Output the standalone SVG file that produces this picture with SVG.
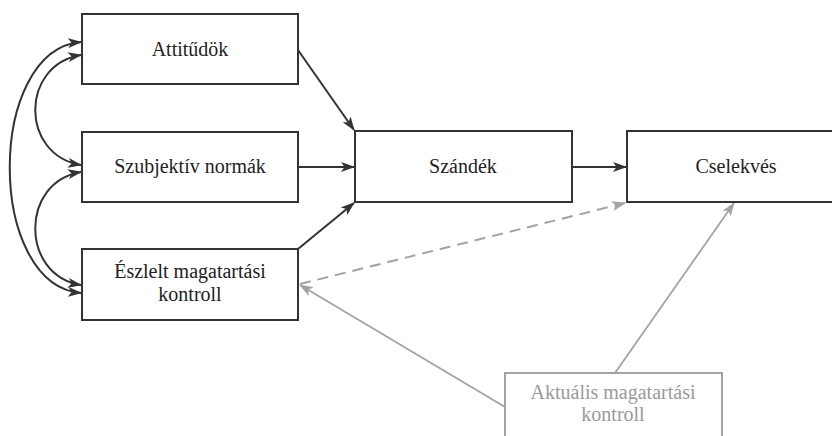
<svg xmlns="http://www.w3.org/2000/svg" width="832" height="436" viewBox="0 0 832 436">
<style>
.box{fill:#fff;stroke:#333;stroke-width:2}
.gbox{fill:#fff;stroke:#a3a3a3;stroke-width:2}
.t{font-family:"Liberation Serif","Times New Roman",serif;font-size:20px;fill:#222;text-anchor:middle}
.gt{font-family:"Liberation Serif","Times New Roman",serif;font-size:20px;fill:#9a9a9a;text-anchor:middle}
.c{fill:none;stroke:#333;stroke-width:2}
.g{fill:none;stroke:#a3a3a3;stroke-width:1.8}
.d{fill:none;stroke:#a3a3a3;stroke-width:2;stroke-dasharray:11 7}
</style>
<defs>
<marker id="a" viewBox="0 0 14 10" refX="13" refY="5" markerWidth="14" markerHeight="10" markerUnits="userSpaceOnUse" orient="auto-start-reverse">
<path d="M0,0 L14,5 L0,10 L3.5,5 z" fill="#333"/>
</marker>
<marker id="ga" viewBox="0 0 14 10" refX="13" refY="5" markerWidth="14" markerHeight="10" markerUnits="userSpaceOnUse" orient="auto-start-reverse">
<path d="M0,0 L14,5 L0,10 L3.5,5 z" fill="#a3a3a3"/>
</marker>
</defs>
<rect width="832" height="436" fill="#fff"/>
<g id="connectors">
<path class="c" d="M81,42 C-14,50 -14,285 81,293" marker-start="url(#a)" marker-end="url(#a)"/>
<path class="c" d="M81,55 C20,65 20,155 81,165" marker-start="url(#a)" marker-end="url(#a)"/>
<path class="c" d="M81,172 C20,182 20,275 81,285" marker-start="url(#a)" marker-end="url(#a)"/>
<line class="c" x1="298" y1="50" x2="354" y2="130" marker-end="url(#a)"/>
<line class="c" x1="298" y1="167" x2="354" y2="167" marker-end="url(#a)"/>
<line class="c" x1="298" y1="249" x2="354" y2="203" marker-end="url(#a)"/>
<line class="c" x1="572" y1="167" x2="626" y2="167" marker-end="url(#a)"/>
<line class="d" x1="300" y1="284" x2="625" y2="203" marker-end="url(#ga)"/>
<line class="g" x1="505" y1="407" x2="300" y2="285" marker-end="url(#ga)"/>
<line class="g" x1="615" y1="373" x2="734" y2="203" marker-end="url(#ga)"/>
</g>
<g id="attitudok">
<rect class="box" x="82" y="14" width="216" height="70"/>
<text class="t" x="190" y="56">Attitűdök</text>
</g>
<g id="szubjektiv">
<rect class="box" x="82" y="132" width="216" height="70"/>
<text class="t" x="190" y="173">Szubjektív normák</text>
</g>
<g id="eszlelt">
<rect class="box" x="82" y="249" width="216" height="71"/>
<text class="t" x="190" y="278">Észlelt magatartási</text>
<text class="t" x="190" y="301">kontroll</text>
</g>
<g id="szandek">
<rect class="box" x="355" y="131" width="217" height="71"/>
<text class="t" x="463" y="173">Szándék</text>
</g>
<g id="cselekves">
<rect class="box" x="627" y="131" width="230" height="71"/>
<text class="t" x="736" y="173">Cselekvés</text>
</g>
<g id="aktualis">
<rect class="gbox" x="505" y="373" width="217" height="80"/>
<text class="gt" x="613" y="399">Aktuális magatartási</text>
<text class="gt" x="613" y="421">kontroll</text>
</g>
</svg>
